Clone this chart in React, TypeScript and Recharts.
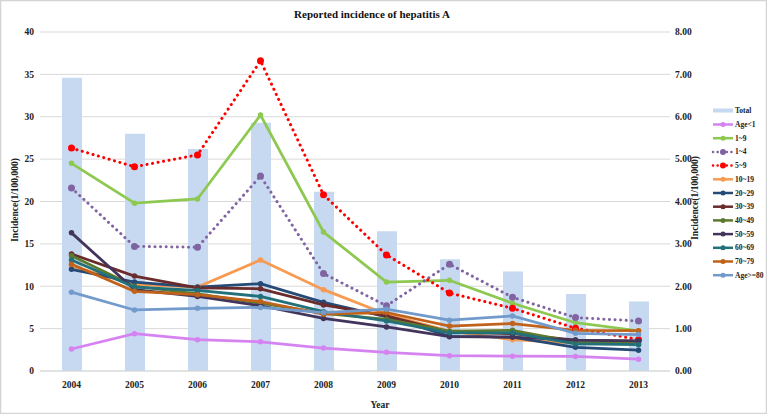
import React from "react";
import { ComposedChart, Bar, Line, XAxis, YAxis, CartesianGrid } from "recharts";

const years = ["2004", "2005", "2006", "2007", "2008", "2009", "2010", "2011", "2012", "2013"];
const total = [6.92, 5.6, 5.24, 5.86, 4.23, 3.3, 2.64, 2.35, 1.82, 1.64];
const ageLt1 = [2.6, 4.4, 3.7, 3.45, 2.7, 2.2, 1.8, 1.75, 1.72, 1.4];
const age1to9 = [24.5, 19.8, 20.3, 30.2, 16.4, 10.5, 10.7, 8.0, 5.7, 4.75];
const age1to4 = [21.6, 14.7, 14.6, 23.0, 11.5, 7.7, 12.6, 8.7, 6.3, 5.9];
const age5to9 = [26.3, 24.1, 25.5, 36.6, 20.8, 13.7, 9.2, 7.4, 5.05, 3.7];
const age10to19 = [12.4, 10.2, 9.9, 13.1, 9.6, 6.7, 4.7, 3.7, 3.3, 3.2];
const age20to29 = [12.0, 10.5, 9.9, 10.3, 8.1, 6.4, 4.1, 4.0, 2.8, 2.45];
const age30to39 = [13.8, 11.2, 9.8, 9.7, 7.8, 6.5, 4.6, 4.4, 3.65, 3.5];
const age40to49 = [13.6, 10.0, 9.1, 8.0, 6.8, 6.1, 4.7, 4.8, 3.4, 3.2];
const age50to59 = [16.3, 9.6, 8.8, 7.7, 6.2, 5.2, 4.05, 4.0, 3.65, 3.55];
const age60to69 = [13.1, 9.9, 9.5, 8.8, 7.0, 5.9, 4.5, 4.5, 3.2, 3.1];
const age70to79 = [12.6, 9.4, 9.0, 8.2, 6.7, 6.9, 5.3, 5.6, 4.8, 4.75];
const age80plus = [9.3, 7.2, 7.4, 7.5, 6.9, 7.3, 6.0, 6.5, 4.45, 4.3];

const leftTicks = [0, 5, 10, 15, 20, 25, 30, 35, 40];
const rightTicks = [0, 1, 2, 3, 4, 5, 6, 7, 8];

type S = { key: string; name: string; values: number[]; color: string; dotted?: boolean };
const series: S[] = [
  { key: "a0", name: "Age<1", values: ageLt1, color: "#d683f2" },
  { key: "a19", name: "1~9", values: age1to9, color: "#8dc850" },
  { key: "a14", name: "1~4", values: age1to4, color: "#8064a2", dotted: true },
  { key: "a59", name: "5~9", values: age5to9, color: "#ff0000", dotted: true },
  { key: "a1019", name: "10~19", values: age10to19, color: "#f79a52" },
  { key: "a2029", name: "20~29", values: age20to29, color: "#244a75" },
  { key: "a3039", name: "30~39", values: age30to39, color: "#6a2b2b" },
  { key: "a4049", name: "40~49", values: age40to49, color: "#5c7a2e" },
  { key: "a5059", name: "50~59", values: age50to59, color: "#42345a" },
  { key: "a6069", name: "60~69", values: age60to69, color: "#22707a" },
  { key: "a7079", name: "70~79", values: age70to79, color: "#c0621a" },
  { key: "a80", name: "Age>=80", values: age80plus, color: "#729acb" },
];

const data = years.map((y, i) => {
  const row: Record<string, number | string> = { year: y, total: total[i] };
  series.forEach((s) => (row[s.key] = s.values[i]));
  return row;
});

const FONT = "'Liberation Serif', 'Times New Roman', serif";
const tickStyle = { fontFamily: FONT, fontSize: 9.5, fontWeight: 700, fill: "#222" };

export default function App() {
  return (
    <div style={{ position: "absolute", left: 0, top: 0, width: 767, height: 414, background: "#fff" }}>
      <ComposedChart
        width={767}
        height={414}
        data={data}
        margin={{ top: 32, right: 57, bottom: 13, left: 0 }}
      >
        <CartesianGrid yAxisId="left" vertical={false} stroke="#d9d9d9" strokeWidth={1} />
        <XAxis
          dataKey="year"
          tickLine={false}
          axisLine={{ stroke: "#d9d9d9" }}
          tick={tickStyle}
          tickMargin={4}
          height={30}
          interval={0}
        />
        <YAxis
          yAxisId="left"
          orientation="left"
          domain={[0, 40]}
          ticks={leftTicks}
          width={40}
          tickLine={false}
          axisLine={false}
          tickSize={0}
          tickMargin={6}
          tick={tickStyle}
          interval={0}
        />
        <YAxis
          yAxisId="right"
          orientation="right"
          domain={[0, 8]}
          ticks={rightTicks}
          width={40}
          tickLine={false}
          axisLine={false}
          tickSize={0}
          tickMargin={5}
          tick={tickStyle}
          tickFormatter={(v: number) => v.toFixed(2)}
          interval={0}
        />
        <Bar yAxisId="right" dataKey="total" fill="#c6d9f0" barSize={20} isAnimationActive={false} />
        {series.map((s) => (
          <Line
            key={s.key}
            yAxisId="left"
            dataKey={s.key}
            name={s.name}
            stroke={s.color}
            strokeWidth={s.dotted ? 3 : 2.75}
            strokeDasharray={s.dotted ? "0.1 5.5" : undefined}
            strokeLinecap={s.dotted ? "round" : "butt"}
            dot={{ r: s.dotted ? 3.5 : 2.75, fill: s.color, stroke: s.color, strokeWidth: 0, strokeDasharray: "" }}
            isAnimationActive={false}
          />
        ))}
      </ComposedChart>
      <svg
        width={767}
        height={414}
        style={{ position: "absolute", left: 0, top: 0, pointerEvents: "none" }}
      >
        <rect x={0.5} y={0.5} width={766} height={413} fill="none" stroke="#d4d4d4" strokeWidth={1.5} />
        <text x={372} y={18} textAnchor="middle" fontFamily={FONT} fontSize={11} fontWeight={700} fill="#111">
          Reported incidence of hepatitis A
        </text>
        <text
          x={0}
          y={0}
          transform="translate(18,200) rotate(-90)"
          textAnchor="middle"
          fontFamily={FONT}
          fontSize={9.5}
          fontWeight={700}
          fill="#222"
        >
          Incidence(1/100,000)
        </text>
        <text
          x={0}
          y={0}
          transform="translate(698,198) rotate(-90)"
          textAnchor="middle"
          fontFamily={FONT}
          fontSize={9.5}
          fontWeight={700}
          fill="#222"
        >
          Incidence(1/100,000)
        </text>
        <text x={380} y={408} textAnchor="middle" fontFamily={FONT} fontSize={9.5} fontWeight={700} fill="#222">
          Year
        </text>
        <g>
          <rect x={713} y={108.5} width={20} height={4} fill="#c6d9f0" />
          <text x={735} y={113} fontFamily={FONT} fontSize={7.5} fontWeight={700} fill="#222">
            Total
          </text>
          {series.map((s, i) => {
            const y = 124.5 + i * 13.7;
            return (
              <g key={s.key}>
                <line
                  x1={713}
                  x2={733}
                  y1={y}
                  y2={y}
                  stroke={s.color}
                  strokeWidth={s.dotted ? 2.5 : 2.5}
                  strokeDasharray={s.dotted ? "0.1 4.5" : undefined}
                  strokeLinecap={s.dotted ? "round" : "butt"}
                />
                <circle cx={723} cy={y} r={s.dotted ? 3 : 2.5} fill={s.color} />
                <text x={735} y={y + 2.5} fontFamily={FONT} fontSize={7.5} fontWeight={700} fill="#222">
                  {s.name}
                </text>
              </g>
            );
          })}
        </g>
      </svg>
    </div>
  );
}
